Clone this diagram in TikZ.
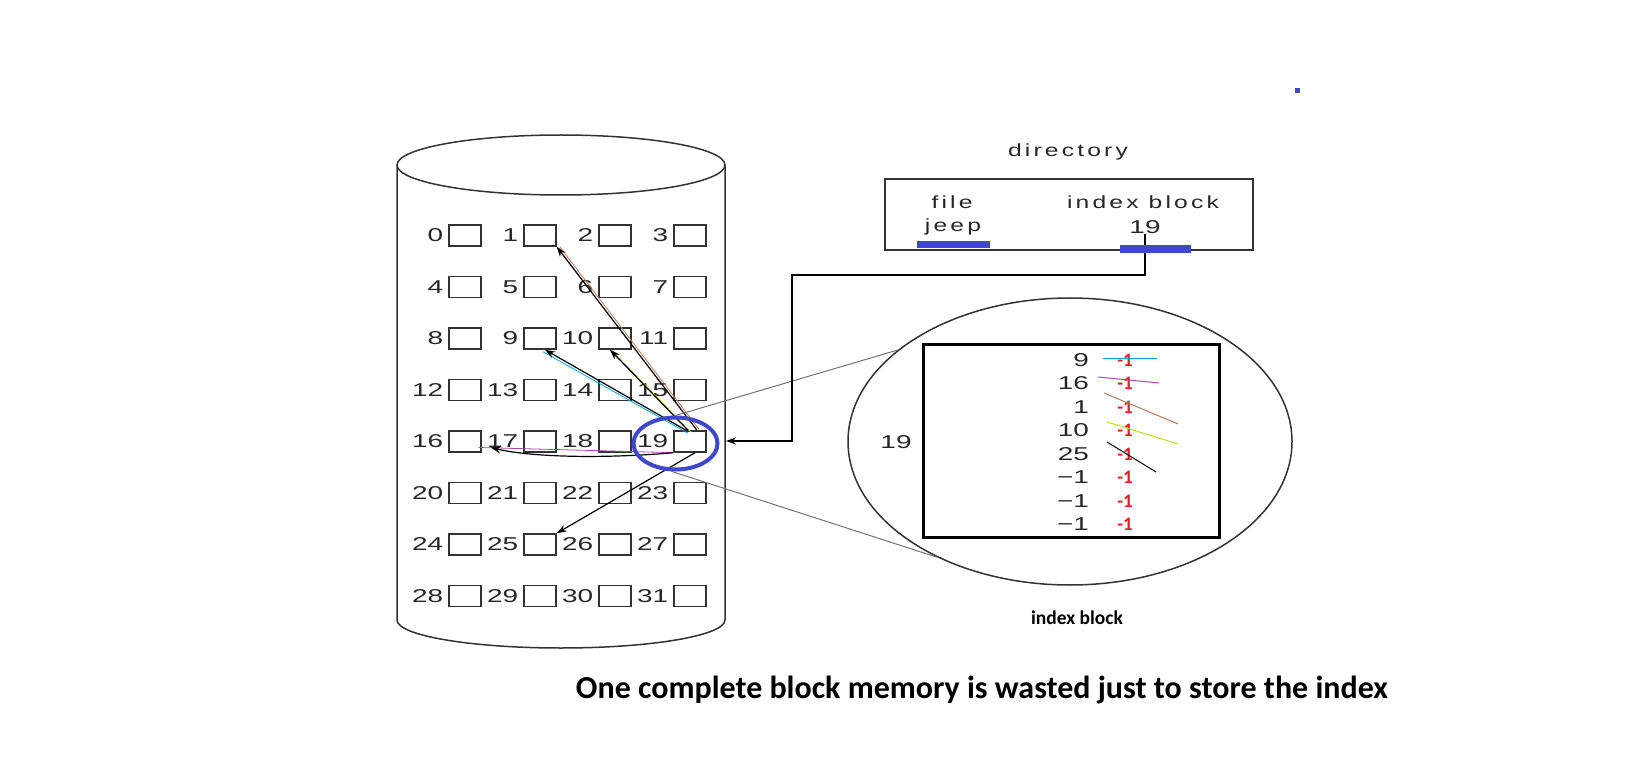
\documentclass[tikz,border=0pt]{standalone}
\usepackage{fontspec}
\setmainfont{Liberation Sans}
\newfontfamily\numfont[FakeStretch=1.5]{Liberation Sans}
\newfontfamily\wordfont[FakeStretch=1.4,LetterSpace=18]{Liberation Sans}
\newfontfamily\notefont{Carlito}
\usetikzlibrary{arrows.meta,positioning,shapes.geometric}

\definecolor{markblue}{RGB}{63,72,204}
\definecolor{pcyan}{RGB}{0,162,232}
\definecolor{ppurple}{RGB}{163,73,164}
\definecolor{pbrown}{RGB}{185,122,87}
\definecolor{plime}{RGB}{181,230,29}
\definecolor{pred}{RGB}{237,28,36}

\tikzset{
  blk/.style={draw=black!80,line width=1.5pt,minimum width=32pt,minimum height=21pt,inner sep=0pt},
  num/.style={font=\numfont\fontsize{18.6}{20}\selectfont,text=black!85,inner sep=0pt},
  word/.style={font=\wordfont\fontsize{17.6}{20}\selectfont,text=black!85,inner sep=0pt},
  negone/.style={font=\notefont\bfseries\fontsize{19}{22}\selectfont,text=pred,inner sep=0pt},
  ptr/.style={-{Stealth[length=10pt,width=7pt]},line width=1.2pt},
  tie/.style={line width=0.8pt},
}

\begin{document}
\begin{tikzpicture}[x=1pt,y=1pt,yscale=-1,xscale=1]
\useasboundingbox (0,0) rectangle (1634,762);

%Shape: Can
\draw [black!80,line width=1.5pt] (561,165) ellipse [x radius=164,y radius=30];
\draw [black!80,line width=1.5pt] (397,165) -- (397,620) arc [start angle=180,end angle=0,x radius=164,y radius=28] -- (725,165);
\coordinate (cylR) at (726,441);

%Blocks 0..31
\foreach \n in {0,...,31}{
  \pgfmathtruncatemacro\c{mod(\n,4)}
  \pgfmathtruncatemacro\r{div(\n,4)}
  \node [blk] (b\n) at ({465+75*\c},{235.5+51.5*\r}) {};
  \node [num,anchor=east] (l\n) at ([shift={(-5,0)}]b\n.west) {\n};
}

%Pointers out of block 19
\draw [pbrown,tie] ([shift={(9,-1)}]b19.north) -- ([shift={(3,0)}]b1.south east);
\draw [ptr] ([shift={(7,0)}]b19.north) -- (b1.south east);
\draw [plime,tie] ([shift={(1,2)}]b19.north) -- ([shift={(-3,1)}]b10.south);
\draw [ptr] ([shift={(-2,0)}]b19.north) -- ([shift={(-5,0)}]b10.south);
\draw [pcyan,tie] ([shift={(-2,3)}]b19.north) -- ([shift={(3,2)}]b9.south);
\draw [ptr] ([shift={(-4,0)}]b19.north) -- ([shift={(5,0)}]b9.south);
\draw [ppurple,tie] ([shift={(3,0)}]b19.south west) -- ([shift={(-3,6)}]b16.east);
\draw [ptr] (b19.south west) .. controls (600,459) and (530,457) .. ([shift={(9,6)}]b16.east);
\draw [ptr] ([shift={(5,0)}]b19.south) -- (b25.north east);

%Shape: Ellipse round block 19
\node [ellipse,draw=markblue,line width=4pt,minimum width=84pt,minimum height=52pt] (lens) at (675.5,443.5) {};

%Shape: Ellipse (magnified block)
\node [ellipse,draw=black!80,line width=1.5pt,minimum width=444pt,minimum height=287pt] (zoom) at (1070,441.5) {};
\draw [black!55,line width=1pt] (lens.north) -- (zoom.152);
\draw [black!55,line width=1pt] (lens.262) -- (zoom.221);

%Shape: Rectangle (index block)
\node [draw=black,line width=3pt,minimum width=296pt,minimum height=193pt] (idx) at (1071,440.5) {};
\node [num] (idxno) at (896,442) {19};
\foreach \v [count=\i] in {9,16,1,10,25,−1,−1,−1}{
  \node [num,anchor=east] (ent\i) at (1089,{336.5+23.5*\i}) {\v};
  \node [negone] (neg\i) at (1125,{336.5+23.5*\i}) {-1};
}
%Straight Lines (struck entries)
\draw [pcyan,line width=1pt] (1103,358) -- (1157,358);
\draw [ppurple,line width=1pt] (1098,377) -- (1159,383);
\draw [pbrown,line width=1pt] (1104,393) -- (1178,424);
\draw [plime,line width=1pt] (1107,422) -- (1178,444);
\draw [black,line width=1pt] (1107,442) -- (1156,472);

%Shape: Rectangle (directory)
\node [draw=black!80,line width=1.5pt,minimum width=368pt,minimum height=71pt] (dir) at (1069,214.5) {};
% Text Node
\node [word] (dirlbl) at (1068,152) {directory};
\node [word] (filehd) at (952,202) {file};
\node [word] (idxhd) at (1143,202) {index block};
\node [word] (jeep) at (953,227) {jeep};
\node [num] (dir19) at (1145,227) {19};

%Connector from directory to the disk
\coordinate (bend) at (792,275);
\draw [ptr,line width=1.5pt] (dir19.south) |- (bend) |- (cylR);
\fill [markblue] (917,241) rectangle (990,248);
\fill [markblue] (1120,245) rectangle (1191,253);
\fill [markblue] (1295,88) rectangle (1300,93);

% Text Node
\node [font=\notefont\bfseries\fontsize{19.5}{22}\selectfont] (cap) at (1077,618) {index block};
\node [font=\notefont\bfseries\fontsize{32}{36}\selectfont] (note) at (982,690) {One complete block memory is wasted just to store the index};
\end{tikzpicture}
\end{document}
